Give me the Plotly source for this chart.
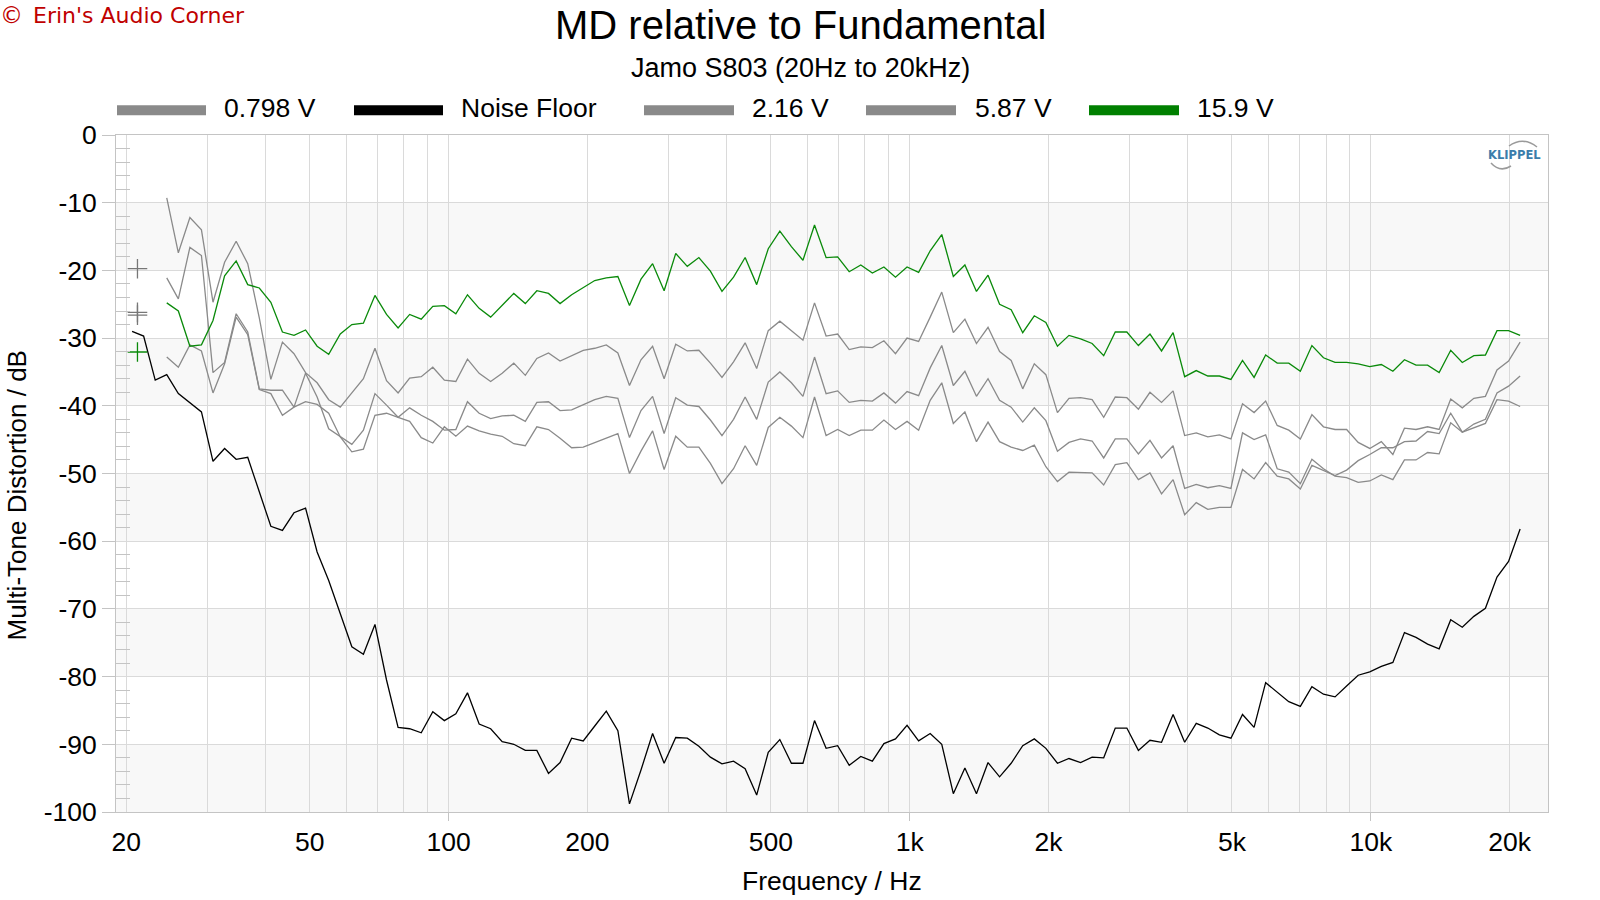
import math
import plotly.graph_objects as go

# ---------------- data ----------------
freq_hz = [
    20.59, 21.81, 23.11, 24.48, 25.94, 27.48, 29.11, 30.84, 32.68, 34.62,
    36.68, 38.86, 41.17, 43.62, 46.21, 48.96, 51.87, 54.96, 58.23, 61.69,
    65.36, 69.24, 73.36, 77.72, 82.34, 87.24, 92.43, 97.92, 103.7, 109.9,
    116.5, 123.4, 130.7, 138.5, 146.7, 155.4, 164.7, 174.5, 184.9, 195.9,
    207.5, 219.8, 232.9, 246.8, 261.4, 277.0, 293.4, 310.9, 329.4, 349.0,
    369.7, 391.7, 415.0, 439.7, 465.8, 493.5, 522.9, 554.0, 586.9, 621.8,
    658.8, 697.9, 739.4, 783.4, 830.0, 879.3, 931.6, 987.0, 1045.7, 1107.9,
    1173.8, 1243.6, 1317.5, 1395.9, 1478.9, 1566.8, 1660.0, 1758.7, 1863.3, 1974.1,
    2091.5, 2215.8, 2347.6, 2487.2, 2635.1, 2791.8, 2957.8, 3133.7, 3320.0, 3517.5,
    3726.6, 3948.2, 4183.0, 4431.7, 4695.3, 4974.5, 5270.3, 5583.7, 5915.7, 6267.5,
    6640.1, 7035.0, 7453.3, 7896.5, 8366.1, 8863.5, 9390.6, 9949.0, 10540.6, 11167.4,
    11831.4, 12535.0, 13280.4, 14070.1, 14906.7, 15793.2, 16732.3, 17727.2, 18781.4, 19898.2,
    21081.4,
]

noise_floor_db = [
    -29.0, -29.7, -36.2, -35.4, -38.2, -39.6, -40.9, -48.2, -46.3, -47.9,
    -47.6, -52.7, -57.8, -58.4, -55.8, -55.1, -61.6, -65.8, -70.8, -75.6,
    -76.7, -72.3, -80.5, -87.5, -87.7, -88.3, -85.2, -86.5, -85.5, -82.4,
    -87.0, -87.7, -89.6, -90.0, -90.9, -90.9, -94.3, -92.7, -89.1, -89.5,
    -87.3, -85.1, -88.0, -98.8, -93.8, -88.4, -92.8, -89.0, -89.1, -90.3,
    -91.9, -92.9, -92.5, -93.6, -97.5, -91.2, -89.3, -92.8, -92.8, -86.5,
    -90.6, -90.2, -93.1, -91.8, -92.5, -89.9, -89.2, -87.2, -89.5, -88.4,
    -90.0, -97.3, -93.5, -97.3, -92.7, -94.8, -92.8, -90.2, -89.2, -90.6,
    -92.8, -92.1, -92.7, -91.9, -92.0, -87.6, -87.6, -90.9, -89.4, -89.7,
    -85.6, -89.7, -86.9, -87.6, -88.6, -89.1, -85.6, -87.5, -80.9, -82.3,
    -83.7, -84.4, -81.5, -82.6, -83.0, -81.4, -79.8, -79.3, -78.5, -77.9,
    -73.5, -74.2, -75.2, -75.9, -71.6, -72.7, -71.1, -69.9, -65.3, -63.0,
    -58.2,
]

v0798_db = [None, None, None,
    -32.8, -34.3, -31.0, -31.9, -38.1, -33.8, -26.9, -29.5, -37.6, -38.2,
    -41.4, -40.2, -39.4, -39.8, -41.1, -44.6, -46.8, -46.4, -41.4, -41.1,
    -41.7, -42.3, -44.7, -45.5, -43.1, -44.5, -43.0, -43.7, -44.2, -44.5,
    -45.6, -45.9, -43.1, -43.5, -44.8, -46.2, -46.1, -45.4, -44.7, -44.1,
    -50.0, -46.7, -43.7, -49.4, -44.5, -46.1, -46.1, -48.5, -51.5, -49.3,
    -45.9, -48.8, -43.2, -41.7, -43.0, -44.7, -38.7, -44.4, -43.5, -44.4,
    -43.6, -43.6, -42.1, -43.5, -42.3, -43.6, -39.2, -36.6, -42.6, -40.9,
    -45.3, -42.4, -45.3, -46.1, -46.6, -45.8, -49.0, -51.2, -49.8, -49.8,
    -49.9, -51.7, -48.7, -48.4, -50.9, -49.9, -53.0, -50.9, -56.1, -54.3,
    -55.3, -55.0, -55.0, -49.4, -50.8, -48.4, -50.4, -50.8, -52.3, -48.8,
    -49.5, -50.3, -49.5, -48.1, -47.2, -46.2, -46.2, -45.3, -45.2, -43.8,
    -44.1, -41.1, -43.9, -43.2, -42.6, -39.1, -39.3, -40.1,
]

v216_db = [None, None, None,
    -21.1, -24.2, -16.6, -17.8, -35.1, -33.6, -26.4, -29.1, -37.5, -37.7,
    -37.7, -40.2, -35.2, -38.7, -43.4, -44.6, -45.7, -43.6, -38.2, -39.9,
    -41.7, -40.3, -41.4, -42.3, -43.6, -43.5, -39.4, -41.1, -41.9, -41.5,
    -41.4, -42.3, -39.5, -39.4, -40.7, -40.6, -39.9, -39.1, -38.6, -38.9,
    -44.7, -40.7, -38.6, -44.1, -38.8, -39.9, -40.1, -42.1, -44.4, -42.0,
    -38.7, -42.0, -36.5, -35.0, -36.6, -38.6, -32.8, -38.2, -37.8, -39.5,
    -39.2, -39.3, -38.1, -39.6, -37.9, -38.5, -34.4, -31.1, -37.0, -34.9,
    -38.6, -36.0, -39.2, -40.2, -42.4, -40.3, -42.2, -46.7, -45.4, -44.9,
    -45.2, -47.7, -44.9, -44.9, -47.1, -45.1, -47.7, -45.9, -52.2, -51.6,
    -52.1, -51.8, -52.2, -44.0, -45.0, -44.3, -49.3, -49.8, -51.5, -47.9,
    -49.3, -50.4, -50.6, -51.3, -51.1, -50.2, -50.9, -48.0, -48.0, -46.9,
    -47.1, -42.5, -43.9, -42.7, -42.0, -38.1, -37.1, -35.6,
]

v587_db = [None, None, None,
    -9.3, -17.4, -12.2, -14.0, -24.7, -18.8, -15.7, -19.0, -27.0, -36.1,
    -30.6, -32.3, -35.1, -36.6, -39.1, -40.2, -38.1, -36.0, -31.5, -36.3,
    -38.1, -35.9, -35.7, -34.3, -36.2, -36.4, -33.1, -35.2, -36.4, -35.2,
    -33.7, -35.5, -33.0, -32.2, -33.4, -32.6, -31.8, -31.5, -31.0, -32.2,
    -37.0, -33.2, -31.2, -36.0, -30.9, -31.9, -31.8, -33.7, -35.8, -33.5,
    -30.7, -34.5, -28.9, -27.5, -28.9, -30.3, -24.8, -29.7, -29.4, -31.7,
    -31.3, -31.4, -30.4, -32.3, -30.0, -30.5, -26.9, -23.2, -29.2, -27.2,
    -30.8, -28.4, -32.0, -33.3, -37.5, -33.8, -35.4, -41.0, -38.9, -38.8,
    -39.1, -41.7, -38.7, -38.8, -40.5, -38.0, -39.5, -37.8, -44.4, -44.0,
    -44.6, -44.3, -44.9, -39.7, -41.0, -39.3, -42.9, -43.6, -44.9, -41.3,
    -43.1, -43.5, -43.5, -45.4, -46.3, -45.3, -47.2, -43.3, -43.5, -43.1,
    -43.5, -39.0, -40.3, -38.9, -38.6, -34.7, -33.4, -30.6,
]

v159_db = [None, None, None,
    -24.8, -26.0, -31.2, -31.0, -27.4, -20.8, -18.6, -22.1, -22.6, -24.7,
    -29.1, -29.6, -28.8, -31.2, -32.4, -29.4, -28.0, -27.8, -23.7, -26.5,
    -28.5, -26.5, -27.2, -25.3, -25.2, -26.4, -23.6, -25.6, -26.9, -25.2,
    -23.4, -24.9, -23.0, -23.4, -24.9, -23.6, -22.5, -21.5, -21.1, -20.9,
    -25.2, -21.3, -19.0, -23.0, -17.5, -19.4, -18.1, -20.1, -23.1, -21.0,
    -18.1, -22.1, -16.8, -14.2, -16.5, -18.5, -13.3, -18.1, -18.0, -20.2,
    -19.2, -20.4, -19.5, -21.0, -19.5, -20.3, -17.1, -14.7, -20.9, -19.2,
    -23.1, -20.7, -25.0, -25.8, -29.2, -26.7, -27.7, -31.2, -29.6, -30.1,
    -30.8, -32.6, -29.1, -29.1, -31.1, -29.4, -31.9, -29.2, -35.7, -34.8,
    -35.6, -35.6, -36.1, -33.3, -35.8, -32.5, -33.7, -33.7, -34.9, -31.1,
    -32.9, -33.6, -33.6, -33.8, -34.2, -33.9, -34.9, -33.2, -34.0, -34.0,
    -35.1, -31.8, -33.6, -32.6, -32.5, -28.9, -28.9, -29.6,
]

# single-value markers at the left edge
marker_freq_hz = 21.15
marker_gray_db = [-19.75, -26.2, -26.6]
marker_green_db = [-32.05]

series_names = ["0.798 V", "Noise Floor", "2.16 V", "5.87 V", "15.9 V"]
x_tick_vals = [20, 50, 100, 200, 500, 1000, 2000, 5000, 10000, 20000]
x_tick_text = ["20", "50", "100", "200", "500", "1k", "2k", "5k", "10k", "20k"]
y_tick_vals = [0, -10, -20, -30, -40, -50, -60, -70, -80, -90, -100]
y_tick_text = ["0", "-10", "-20", "-30", "-40", "-50", "-60", "-70", "-80", "-90", "-100"]

# ---------------- style ----------------
GRAY = "#8a8a8a"
GREEN = "#0a8a0a"
BLACK = "#000000"
GRID = "#dadada"
AXIS = "#c4c4c4"
FONT = "Liberation Sans, Arial, sans-serif"

for arr in (v0798_db, v216_db, v587_db, v159_db, noise_floor_db):
    assert len(arr) == len(freq_hz), len(arr)

fig = go.Figure()
for name, vals, col in [
    ("0.798 V", v0798_db, GRAY),
    ("2.16 V", v216_db, GRAY),
    ("5.87 V", v587_db, GRAY),
    ("15.9 V", v159_db, GREEN),
    ("Noise Floor", noise_floor_db, BLACK),
]:
    fig.add_trace(go.Scatter(x=freq_hz, y=vals, mode="lines", name=name,
                             line=dict(color=col, width=1.3), showlegend=False,
                             connectgaps=False))

fig.add_trace(go.Scatter(x=[marker_freq_hz] * len(marker_gray_db), y=marker_gray_db,
                         mode="markers", xaxis="x2", showlegend=False,
                         marker=dict(symbol="cross-thin", size=14,
                                     line=dict(color="#777777", width=1.3))))
fig.add_trace(go.Scatter(x=[marker_freq_hz] * len(marker_green_db), y=marker_green_db,
                         mode="markers", xaxis="x2", showlegend=False,
                         marker=dict(symbol="cross-thin", size=14,
                                     line=dict(color=GREEN, width=1.3))))

xr = [math.log10(19.0), math.log10(24230)]
minor_x = [v * m for m in (10, 100, 1000) for v in (1, 2, 3, 4, 5, 6, 7, 8, 9)
           if v * m not in x_tick_vals and 30 <= v * m <= 24000]

# plot area in pixels: left 116, right 1548, top 135, bottom 812
L, R, T, B = 116, 1548, 135, 812
PW, PH = R - L, B - T


def xp(px):
    return (px - L) / PW


def yp(py):
    return (B - py) / PH


shapes = []
for y0 in (-20, -40, -60, -80, -100):
    shapes.append(dict(type="rect", xref="paper", x0=0, x1=1, yref="y", y0=y0, y1=y0 + 10,
                       fillcolor="#f8f8f8", line=dict(width=0), layer="below"))

# manual legend
legend_items = [
    (series_names[0], GRAY, 117, 206, 222),
    (series_names[1], BLACK, 354, 443, 459),
    (series_names[2], GRAY, 644, 734, 750),
    (series_names[3], GRAY, 866, 956, 972.5),
    (series_names[4], "#008000", 1089, 1179, 1195),
]
annotations = []
for label, col, x0, x1, tx in legend_items:
    shapes.append(dict(type="line", xref="paper", yref="paper",
                       x0=xp(x0), x1=xp(x1), y0=yp(110.3), y1=yp(110.3),
                       line=dict(color=col, width=10)))
    annotations.append(dict(text=label, xref="paper", yref="paper", x=xp(tx), y=yp(108.3),
                            xanchor="left", yanchor="middle", showarrow=False,
                            font=dict(family=FONT, size=26.5, color="black")))

# Klippel logo arcs
shapes.append(dict(type="path", xref="paper", yref="paper",
                   path=f"M {xp(1509)} {yp(146)} Q {xp(1523)} {yp(136)} {xp(1537)} {yp(147)}",
                   line=dict(color="#9a9a9a", width=1.5)))
shapes.append(dict(type="path", xref="paper", yref="paper",
                   path=f"M {xp(1491)} {yp(163)} Q {xp(1500)} {yp(173)} {xp(1511)} {yp(166)}",
                   line=dict(color="#9a9a9a", width=1.5)))

annotations += [
    dict(text="MD relative to Fundamental", xref="paper", yref="paper",
         x=xp(800), y=yp(25.0), xanchor="center", yanchor="middle", showarrow=False,
         font=dict(family=FONT, size=40, color="black")),
    dict(text="Jamo S803 (20Hz to 20kHz)", xref="paper", yref="paper",
         x=xp(800), y=yp(67.8), xanchor="center", yanchor="middle", showarrow=False,
         font=dict(family=FONT, size=27, color="black")),
    dict(text="\u00a9", xref="paper", yref="paper", x=xp(-2), y=yp(15),
         xanchor="left", yanchor="middle", showarrow=False,
         font=dict(family="DejaVu Sans", size=23, color="#c00000")),
    dict(text="Erin's Audio Corner", xref="paper", yref="paper", x=xp(31), y=yp(15),
         xanchor="left", yanchor="middle", showarrow=False,
         font=dict(family="DejaVu Sans", size=22, color="#c00000")),
    dict(text="Frequency / Hz", xref="paper", yref="paper", x=0.5, y=yp(881.0),
         xanchor="center", yanchor="middle", showarrow=False,
         font=dict(family=FONT, size=26.5, color="black")),
    dict(text="Multi-Tone Distortion / dB", xref="paper", yref="paper", x=xp(16.5), y=yp(496),
         xanchor="center", yanchor="middle", showarrow=False, textangle=-90,
         font=dict(family=FONT, size=26, color="black")),
    dict(text="<b>KLIPPEL</b>", xref="paper", yref="paper", x=xp(1514), y=yp(155),
         xanchor="center", yanchor="middle", showarrow=False,
         font=dict(family="DejaVu Sans", size=11.5, color="#3b7dab")),
]

fig.update_layout(
    width=1600, height=900,
    margin=dict(l=L, r=1600 - R, t=T, b=900 - B, pad=0),
    paper_bgcolor="white", plot_bgcolor="white",
    font=dict(family=FONT, size=26.5, color="black"),
    showlegend=False,
    shapes=shapes,
    annotations=annotations,
    xaxis=dict(type="log", range=xr, tickmode="array", tickvals=x_tick_vals, ticktext=x_tick_text,
               ticks="", showgrid=True, gridcolor=GRID, gridwidth=1,
               minor=dict(tickmode="array", tickvals=minor_x, showgrid=True, gridcolor=GRID,
                          gridwidth=1, ticks=""),
               showline=True, linecolor=AXIS, linewidth=1, mirror=True, zeroline=False,
               ticklabelstandoff=6, tickfont=dict(family=FONT, size=26.5, color="black")),
    xaxis2=dict(type="log", range=xr, overlaying="x", anchor="y", side="bottom",
                tickmode="array", tickvals=[100, 1000, 10000], ticks="outside", ticklen=8,
                tickcolor=AXIS, showticklabels=False, showgrid=False, showline=False,
                zeroline=False),
    yaxis=dict(range=[-100, 0], tickmode="array", tickvals=y_tick_vals, ticktext=y_tick_text,
               ticks="outside", ticklen=13, tickcolor=AXIS, showgrid=True, gridcolor=GRID,
               gridwidth=1,
               minor=dict(tickmode="array",
                          tickvals=[v for v in range(-98, 0, 2) if v % 10 != 0],
                          ticks="inside", ticklen=14, tickcolor=AXIS, showgrid=False),
               showline=True, linecolor=AXIS, linewidth=1, mirror=True, zeroline=False,
               tickfont=dict(family=FONT, size=26.5, color="black")),
)

fig.write_html("out.html", config={"displayModeBar": False},
               post_script="document.body.style.margin='0px';document.body.style.overflow='hidden';")
